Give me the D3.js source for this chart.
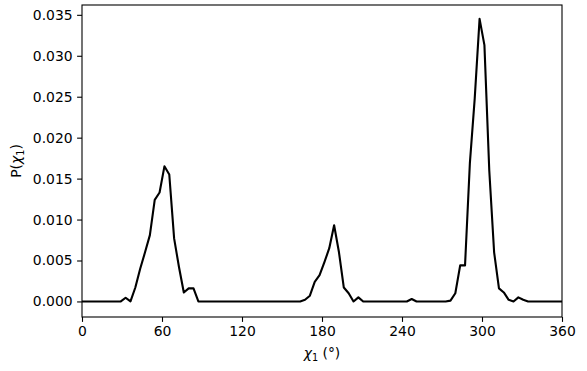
<!DOCTYPE html>
<html>
<head>
<meta charset="utf-8">
<script src="https://cdn.jsdelivr.net/npm/d3@7"></script>
<style>
  html, body { margin: 0; padding: 0; background: #fff; }
  svg { display: block; }
  text { font-family: "DejaVu Sans", sans-serif; }
</style>
</head>
<body>
<svg id="chart" width="587" height="371"></svg>
<script>
// Bin index k -> angle k*360/99 (100 samples from 0 to 360)
const binCount = 100;
const chiValues = [
  0, 0, 0, 0, 0, 0, 0, 0, 0, 0.00045,          // k 0-9
  0, 0.0017, 0.0040, 0.0060, 0.0081, 0.0124, 0.0133, 0.0165, 0.0155, 0.0077, // 10-19
  0.0042, 0.0011, 0.0016, 0.0016, 0, 0, 0, 0, 0, 0,  // 20-29
  0, 0, 0, 0, 0, 0, 0, 0, 0, 0,                  // 30-39
  0, 0, 0, 0, 0, 0, 0.0002, 0.0007, 0.0024, 0.0032, // 40-49
  0.0048, 0.0065, 0.0093, 0.0060, 0.0017, 0.0010, 0, 0.0005, 0, 0, // 50-59
  0, 0, 0, 0, 0, 0, 0, 0, 0.0003, 0,             // 60-69
  0, 0, 0, 0, 0, 0, 0.0001, 0.0010, 0.0044, 0.0044, // 70-79
  0.0169, 0.0248, 0.0345, 0.0313, 0.0160, 0.0060, 0.0016, 0.0011, 0.0002, 0, // 80-89
  0.0005, 0.0002, 0, 0, 0, 0, 0, 0, 0, 0         // 90-99
];
const chiAngles = d3.range(binCount).map(k => k * 360 / (binCount - 1));
const xTicks = [0, 60, 120, 180, 240, 300, 360];
const yTicks = [0, 0.005, 0.010, 0.015, 0.020, 0.025, 0.030, 0.035];

const svg = d3.select("#chart");
const L = 82, R = 562, T = 5, B = 317;

const x = d3.scaleLinear().domain([0, 360]).range([L, R]);
const y = d3.scaleLinear().domain([-0.0019, 0.0362]).range([B, T]);

const data = chiAngles.map((a, i) => ({a, v: chiValues[i]}));

// line
svg.append("path")
  .datum(data)
  .attr("fill", "none")
  .attr("stroke", "#000")
  .attr("stroke-width", 2.1)
  .attr("stroke-linejoin", "round")
  .attr("d", d3.line().x(d => x(d.a)).y(d => y(d.v)));

// frame
svg.append("rect")
  .attr("x", L).attr("y", T)
  .attr("width", R - L).attr("height", B - T)
  .attr("fill", "none").attr("stroke", "#000").attr("stroke-width", 1.1);

// axes
const xAxis = d3.axisBottom(x).tickValues(xTicks).tickFormat(d3.format("d"))
  .tickSize(4.9).tickPadding(4.5);
const gx = svg.append("g").attr("transform", `translate(0,${B})`).call(xAxis);
const yAxis = d3.axisLeft(y).tickValues(yTicks).tickFormat(d3.format(".3f"))
  .tickSize(4.9).tickPadding(4.5);
const gy = svg.append("g").attr("transform", `translate(${L},0)`).call(yAxis);

[gx, gy].forEach(g => {
  g.select(".domain").remove();
  g.selectAll(".tick line").attr("stroke", "#000").attr("stroke-width", 1.1);
  g.selectAll(".tick text").attr("fill", "#000")
    .style("font-family", "DejaVu Sans").style("font-size", "13.9px");
});

// x label
const xl = svg.append("text")
  .attr("x", (L + R) / 2).attr("y", 358)
  .attr("text-anchor", "middle")
  .style("font-size", "13.9px");
xl.append("tspan").style("font-style", "italic").text("χ");
xl.append("tspan").attr("dy", 2.5).style("font-size", "9.7px").text("1");
xl.append("tspan").attr("dy", -2.5).text(" (°)");

// y label
const yl = svg.append("text")
  .attr("transform", `translate(21,${(T + B) / 2}) rotate(-90)`)
  .attr("text-anchor", "middle")
  .style("font-size", "13.9px");
yl.append("tspan").text("P(");
yl.append("tspan").style("font-style", "italic").text("χ");
yl.append("tspan").attr("dy", 2.5).style("font-size", "9.7px").text("1");
yl.append("tspan").attr("dy", -2.5).text(")");
</script>
</body>
</html>
